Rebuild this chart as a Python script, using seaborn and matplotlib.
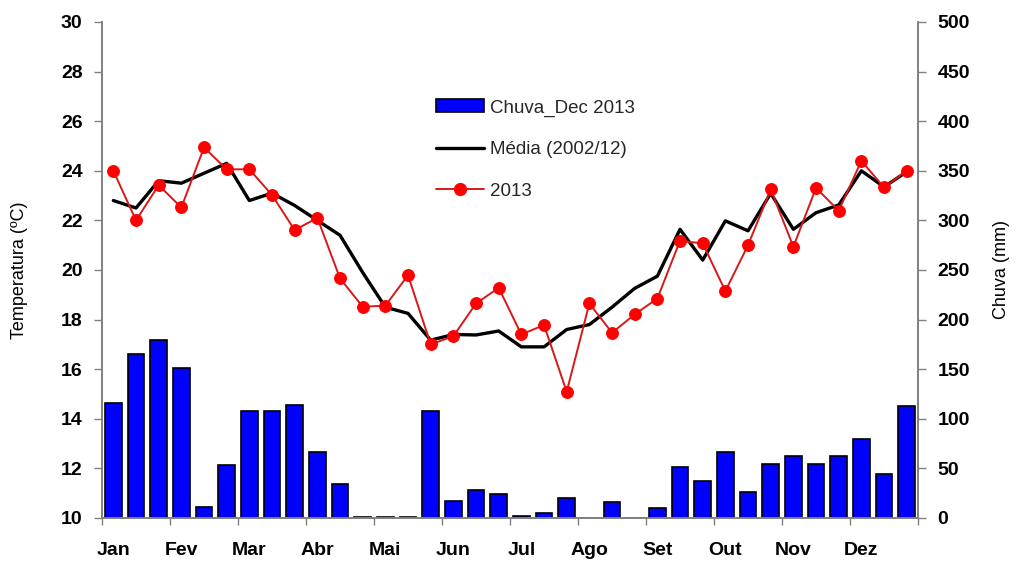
import numpy as np
import pandas as pd
import matplotlib
matplotlib.use("Agg")
import matplotlib.pyplot as plt
import seaborn as sns
from matplotlib.patches import Patch
from matplotlib.lines import Line2D

# Ten-day periods (decêndios) of the year, three per month
months = ["Jan", "Fev", "Mar", "Abr", "Mai", "Jun",
          "Jul", "Ago", "Set", "Out", "Nov", "Dez"]

# Rainfall per decêndio in 2013 (mm)
chuva_2013 = [116, 165, 179, 151, 11, 53, 108, 108, 114, 67, 34, 1.5,
              1.5, 1.5, 108, 17, 28, 24, 2.5, 5, 20, 0, 16, 0,
              10, 51, 37, 67, 26, 54, 62, 54, 62, 80, 44, 113]

# Mean temperature 2002/12 per decêndio (°C)
temp_media = [22.8, 22.5, 23.6, 23.5, 23.9, 24.3, 22.8, 23.1, 22.6, 22.0, 21.4, 19.9,
              18.5, 18.25, 17.17, 17.4, 17.38, 17.54, 16.9, 16.9, 17.6, 17.8, 18.5, 19.26,
              19.75, 21.64, 20.4, 21.98, 21.58, 23.09, 21.64, 22.31, 22.62, 24.0, 23.35, 23.96]

# Temperature in 2013 per decêndio (°C)
temp_2013 = [24.0, 22.0, 23.42, 22.52, 24.94, 24.06, 24.06, 23.02, 21.61, 22.1, 19.66, 18.52,
             18.56, 19.79, 17.0, 17.33, 18.65, 19.28, 17.4, 17.78, 15.09, 18.65, 17.47, 18.21,
             18.85, 21.18, 21.07, 19.15, 21.0, 23.25, 20.94, 23.31, 22.39, 24.4, 23.33, 24.0]

n = len(chuva_2013)
df = pd.DataFrame({
    "dec": np.arange(n),
    "chuva": chuva_2013,
    "media": temp_media,
    "t2013": temp_2013,
})

sns.set_theme(style="white")
plt.rcParams["font.family"] = ["Liberation Sans", "DejaVu Sans"]

fig = plt.figure(figsize=(10.17, 5.65), dpi=100)
ax = fig.add_axes([0.1003, 0.0832, 0.8024, 0.8779])
ax2 = ax.twinx()

# Rain bars on the secondary (right) axis
sns.barplot(data=df, x="dec", y="chuva", ax=ax2, color="#0000ff",
            saturation=1, width=0.74, edgecolor="black", linewidth=1.2,
            native_scale=True)

# Temperature lines on the primary (left) axis
sns.lineplot(data=df, x="dec", y="media", ax=ax, color="black", linewidth=2.4)
sns.lineplot(data=df, x="dec", y="t2013", ax=ax, color="#d81818", linewidth=1.4,
             marker="o", markersize=8.5, markeredgecolor="#ff0000",
             markerfacecolor="#ff0000")

# Lines drawn above the bars
ax.set_zorder(ax2.get_zorder() + 1)
ax.patch.set_visible(False)

ax.set_xlim(-0.5, n - 0.5)
ax2.set_xlim(-0.5, n - 0.5)
ax.set_ylim(10, 30)
ax2.set_ylim(0, 500)
ax.set_yticks(np.arange(10, 31, 2))
ax2.set_yticks(np.arange(0, 501, 50))

# Month labels at the first decêndio, tick marks at month boundaries
ax.set_xticks(np.arange(0, n, 3))
ax.set_xticklabels(months)
ax.set_xticks(np.arange(-0.5, n, 3), minor=True)
ax.tick_params(axis="x", which="major", length=0, pad=17)
ax.tick_params(axis="x", which="minor", length=5, width=1, color="#808080",
               direction="out", bottom=True)
ax2.tick_params(axis="x", which="both", length=0, labelbottom=False)

ax.tick_params(axis="y", which="major", length=6, width=1, color="#808080",
               direction="out", left=True, pad=8)
ax2.tick_params(axis="y", which="major", length=6, width=1, color="#808080",
                direction="out", right=True, pad=8)

for lab in ax.get_xticklabels() + ax.get_yticklabels() + ax2.get_yticklabels():
    lab.set_fontweight("bold")
    lab.set_fontsize(14)
    lab.set_color("black")

for a in (ax, ax2):
    a.spines["top"].set_visible(False)
    for s in ("left", "right", "bottom"):
        a.spines[s].set_color("#808080")
        a.spines[s].set_linewidth(1.2)

ax.set_xlabel("")
ax2.set_xlabel("")
ax.set_ylabel("Temperatura (ºC)", fontsize=13, color="black")
ax2.set_ylabel("Chuva (mm)", fontsize=13, color="black")
ax.yaxis.set_label_coords(-0.091, 0.5)
ax2.yaxis.set_label_coords(1.092, 0.5)

handles = [
    Patch(facecolor="#0000ff", edgecolor="black", linewidth=1.2),
    Line2D([0], [0], color="black", linewidth=2.4),
    Line2D([0], [0], color="#d81818", linewidth=1.4, marker="o", markersize=8.5,
           markerfacecolor="#ff0000", markeredgecolor="#ff0000"),
]
labels = ["Chuva_Dec 2013", "Média (2002/12)", "2013"]
leg = ax.legend(handles, labels, loc="upper left", bbox_to_anchor=(0.388, 0.878),
                frameon=False, fontsize=13.5, handlelength=2.6, handletextpad=0.3,
                labelspacing=1.3, handleheight=0.7)

fig.savefig("out.png", dpi=100)
